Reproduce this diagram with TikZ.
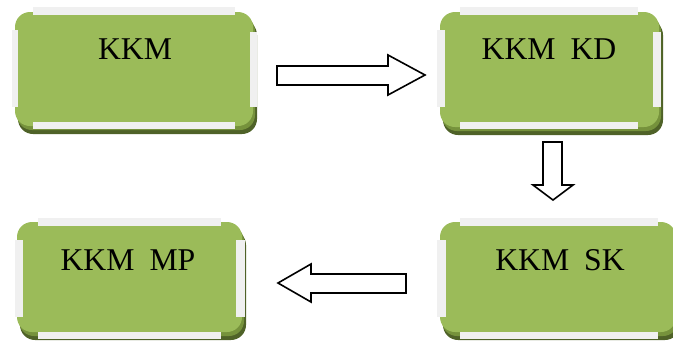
\documentclass[tikz,border=0pt]{standalone}
\usepackage{fontspec}
\setmainfont{Liberation Serif}
\definecolor{gfill}{HTML}{9BBB59}
\definecolor{gdark}{HTML}{4F6228}
\definecolor{gmid}{HTML}{76923C}
\definecolor{barc}{HTML}{F0F0F0}
\tikzset{
  boxlabel/.style={font=\fontsize{31.7}{38}\selectfont, anchor=base, inner sep=0pt},
  blockarrow/.style={draw=black, line width=1.6pt, fill=white, line join=miter},
  barfill/.style={fill=barc, draw=none},
}
\newcommand\greenbox[4]{%
  \fill[gdark, rounded corners=15pt] (#1+3,#2+8) rectangle (#3+4,#4+8);
  \fill[gmid, rounded corners=15pt] (#1+2,#2+4) rectangle (#3+2,#4+4);
  \fill[gfill, rounded corners=15pt] (#1,#2) rectangle (#3,#4);
}
\begin{document}
\begin{tikzpicture}[x=1pt,y=-1pt]
\useasboundingbox (0,0) rectangle (673,341);
\begin{scope}
\clip (0,0) rectangle (673,341);
% box 1
\greenbox{15}{12}{253}{126}
\fill[barfill] (33,7) rectangle (235,15);
\fill[barfill] (33,122) rectangle (235,129);
\fill[barfill] (12,30) rectangle (18,107);
\fill[barfill] (250,32) rectangle (257,107);
% box 2
\greenbox{440}{12}{659}{127}
\fill[barfill] (460,7) rectangle (638,15);
\fill[barfill] (460,122) rectangle (638,129);
\fill[barfill] (437,30) rectangle (445,107);
\fill[barfill] (653,32) rectangle (661,107);
% box 3
\greenbox{17}{222}{242}{332}
\fill[barfill] (38,218) rectangle (221,226);
\fill[barfill] (38,332) rectangle (221,339);
\fill[barfill] (15,240) rectangle (23,317);
\fill[barfill] (236,240) rectangle (245,317);
% box 4
\greenbox{440}{222}{676}{332}
\fill[barfill] (460,218) rectangle (658,226);
\fill[barfill] (460,332) rectangle (658,339);
\fill[barfill] (437,240) rectangle (446,317);
\end{scope}
% labels
\node[boxlabel] (kkm) at (135,59) {KKM};
\node[boxlabel] (kkmkd) at (549,59) {KKM\hspace{15pt}KD};
\node[boxlabel] (kkmmp) at (128,270) {KKM\hspace{15pt}MP};
\node[boxlabel] (kkmsk) at (560,270) {KKM\hspace{15pt}SK};
% arrows
\draw[blockarrow] (277,66) -- (388,66) -- (388,55) -- (425,75) -- (388,95) -- (388,85) -- (277,85) -- cycle;
\draw[blockarrow] (543,142) -- (562,142) -- (562,185) -- (573,185) -- (553,200) -- (533,185) -- (543,185) -- cycle;
\draw[blockarrow] (406,274) -- (311,274) -- (311,264) -- (278,283) -- (311,302) -- (311,293) -- (406,293) -- cycle;
\end{tikzpicture}
\end{document}
